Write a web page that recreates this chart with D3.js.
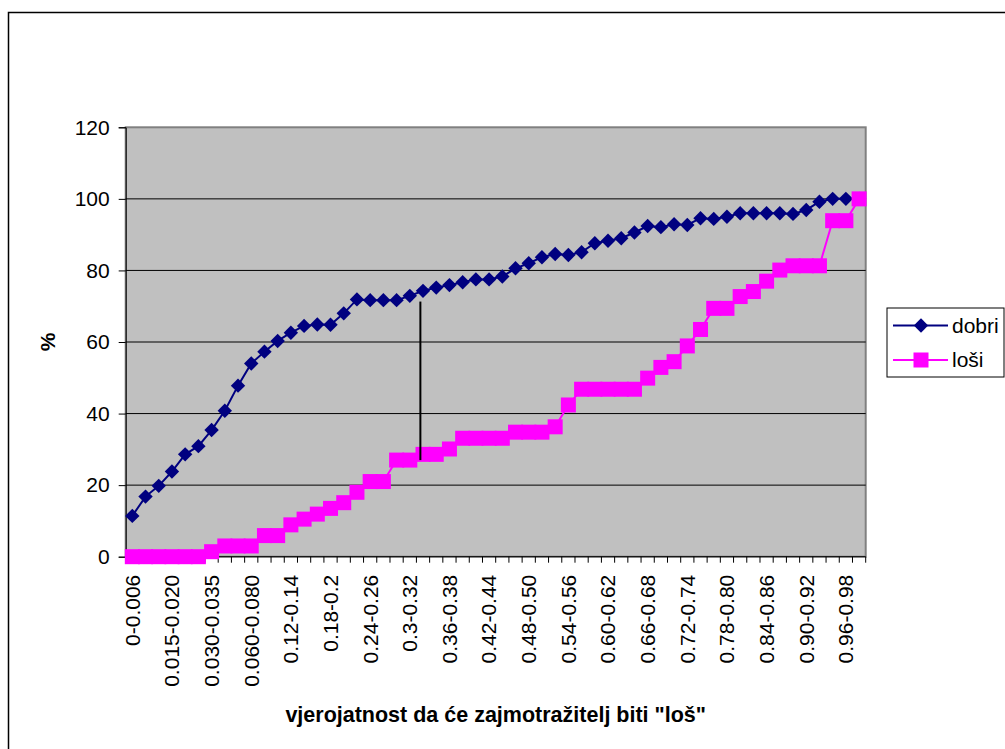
<!DOCTYPE html>
<html><head><meta charset="utf-8">
<script src="https://cdn.jsdelivr.net/npm/d3@7"></script>
<style>body{margin:0;background:#fff}svg{display:block}text{font-family:"Liberation Sans",Arial,sans-serif}</style>
</head><body>
<script>
const categories = ["0-0.006","0.006-0.010","0.010-0.015","0.015-0.020","0.020-0.025","0.025-0.030","0.030-0.035","0.035-0.040","0.040-0.060","0.060-0.080","0.080-0.10","0.10-0.12","0.12-0.14","0.14-0.16","0.16-0.18","0.18-0.2","0.2-0.22","0.22-0.24","0.24-0.26","0.26-0.28","0.28-0.3","0.3-0.32","0.32-0.34","0.34-0.36","0.36-0.38","0.38-0.40","0.40-0.42","0.42-0.44","0.44-0.46","0.46-0.48","0.48-0.50","0.50-0.52","0.52-0.54","0.54-0.56","0.56-0.58","0.58-0.60","0.60-0.62","0.62-0.64","0.64-0.66","0.66-0.68","0.68-0.70","0.70-0.72","0.72-0.74","0.74-0.76","0.76-0.78","0.78-0.80","0.80-0.82","0.82-0.84","0.84-0.86","0.86-0.88","0.88-0.90","0.90-0.92","0.92-0.94","0.94-0.96","0.96-0.98","0.98-1"];
const dobri = [11.4,16.8,19.8,23.8,28.6,30.9,35.4,40.8,47.8,54.0,57.3,60.3,62.6,64.5,64.9,64.8,68.0,71.9,71.7,71.7,71.7,72.9,74.3,75.2,75.9,76.7,77.5,77.5,78.3,80.6,82.0,83.7,84.6,84.3,85.1,87.6,88.3,89.0,90.6,92.4,92.1,92.9,92.7,94.6,94.4,95.0,96.0,96.0,96.0,96.0,95.8,96.9,99.2,100,100,100];
const losi = [0,0,0,0,0,0,1.4,3.0,3.0,3.0,5.9,5.9,8.9,10.5,11.9,13.5,15.1,18.0,21.0,21.0,27.0,27.0,28.6,28.6,30.1,33.1,33.1,33.1,33.1,34.8,34.8,34.8,36.3,42.4,46.8,46.8,46.8,46.8,46.8,49.9,52.9,54.5,58.9,63.5,69.4,69.4,72.7,74.1,77.0,80.1,81.3,81.3,81.3,93.9,93.9,100];
const yTicks = [0,20,40,60,80,100,120];
const seriesNames = ["dobri","loši"];
const ksLine = {pos: 22.3, top: 71.3, bottom: 27.0};

const W = 1005, H = 749;
const m = {left:125.7, right:865.7, top:127.3, bottom:556.7};
const FS = "21px";
const svg = d3.select("body").append("svg").attr("width",W).attr("height",H);

// outer chart border
svg.append("rect").attr("x",8.5).attr("y",12.5).attr("width",1020).attr("height",760)
  .attr("fill","none").attr("stroke","#000").attr("stroke-width",1.5);

const x = d3.scaleBand().domain(categories).range([m.left,m.right]).paddingInner(0).paddingOuter(0);
const xc = d => x(d) + x.bandwidth()/2;
const xi = d3.scaleLinear().domain([0,categories.length]).range([m.left,m.right]);
const y = d3.scaleLinear().domain([0,120]).range([m.bottom,m.top]);

// plot area
svg.append("rect").attr("x",m.left).attr("y",m.top).attr("width",m.right-m.left).attr("height",m.bottom-m.top)
  .attr("fill","#c0c0c0").attr("stroke","#808080").attr("stroke-width",2);

// gridlines
svg.append("g").selectAll("line").data(yTicks.filter(t=>t>0 && t<120)).join("line")
  .attr("x1",m.left).attr("x2",m.right).attr("y1",d=>y(d)).attr("y2",d=>y(d))
  .attr("stroke","#000").attr("stroke-width",1);

// y axis
const yAxis = svg.append("g").attr("transform",`translate(${m.left},0)`)
  .call(d3.axisLeft(y).tickValues(yTicks).tickSize(7).tickPadding(9).tickFormat(d3.format("d")));
yAxis.select(".domain").attr("stroke","#000");
yAxis.selectAll(".tick line").attr("stroke","#000");
yAxis.selectAll("text").attr("font-size",FS).attr("fill","#000")
  .style("font-family",'"Liberation Sans",Arial,sans-serif');

// x axis: ticks at category boundaries
const xAxisG = svg.append("g").attr("transform",`translate(0,${m.bottom})`);
xAxisG.append("line").attr("x1",m.left).attr("x2",m.right).attr("y1",0).attr("y2",0).attr("stroke","#000");
xAxisG.selectAll("line.tk").data(d3.range(categories.length+1)).join("line").attr("class","tk")
  .attr("x1",d=>xi(d)).attr("x2",d=>xi(d)).attr("y1",0).attr("y2",6).attr("stroke","#000");
xAxisG.selectAll("text").data(categories.filter((c,i)=>i%3===0)).join("text")
  .attr("transform",d=>`translate(${xc(d)},${18}) rotate(-90)`)
  .attr("text-anchor","end").attr("dy","0.35em").attr("font-size",FS).text(d=>d);

// dobri
const line = d3.line().x((d,i)=>xc(categories[i])).y(d=>y(d));
svg.append("path").datum(dobri).attr("d",line).attr("fill","none").attr("stroke","#000080").attr("stroke-width",2);
const dsz = 7.2;
svg.append("g").selectAll("path").data(dobri).join("path")
  .attr("d",`M0,${-dsz}L${dsz},0L0,${dsz}L${-dsz},0Z`)
  .attr("transform",(d,i)=>`translate(${xc(categories[i])},${y(d)})`).attr("fill","#000080");

// losi
svg.append("path").datum(losi).attr("d",line).attr("fill","none").attr("stroke","#ff00ff").attr("stroke-width",2);
const ssz = 7.5;
svg.append("g").selectAll("rect").data(losi).join("rect")
  .attr("x",(d,i)=>xc(categories[i])-ssz).attr("y",d=>y(d)-ssz).attr("width",2*ssz).attr("height",2*ssz)
  .attr("fill","#ff00ff");

// KS line
svg.append("line").attr("x1",xi(ksLine.pos)).attr("x2",xi(ksLine.pos))
  .attr("y1",y(ksLine.top)).attr("y2",y(ksLine.bottom)).attr("stroke","#000").attr("stroke-width",2);

// axis titles
svg.append("text").attr("x",(m.left+m.right)/2).attr("y",722).attr("text-anchor","middle")
  .attr("font-size","21.5px").attr("font-weight","bold").text('vjerojatnost da će zajmotražitelj biti "loš"');
svg.append("text").attr("transform",`translate(${55},${(m.top+m.bottom)/2}) rotate(-90)`)
  .attr("text-anchor","middle").attr("font-size","21px").attr("font-weight","bold").text("%");

// legend
const lg = svg.append("g");
lg.append("rect").attr("x",887).attr("y",308).attr("width",117).attr("height",69).attr("fill","#fff").attr("stroke","#000");
const rows = [{name:seriesNames[0],c:"#000080",shape:"d",yy:325.5},{name:seriesNames[1],c:"#ff00ff",shape:"s",yy:360}];
rows.forEach(r=>{
  lg.append("line").attr("x1",893).attr("x2",948).attr("y1",r.yy).attr("y2",r.yy).attr("stroke",r.c).attr("stroke-width",2);
  if(r.shape==="d") lg.append("path").attr("d",`M0,${-dsz}L${dsz},0L0,${dsz}L${-dsz},0Z`).attr("transform",`translate(921,${r.yy})`).attr("fill",r.c);
  else lg.append("rect").attr("x",921-ssz).attr("y",r.yy-ssz).attr("width",2*ssz).attr("height",2*ssz).attr("fill",r.c);
  lg.append("text").attr("x",952).attr("y",r.yy).attr("dy","0.35em").attr("font-size",FS).text(r.name);
});
</script>
</body></html>
